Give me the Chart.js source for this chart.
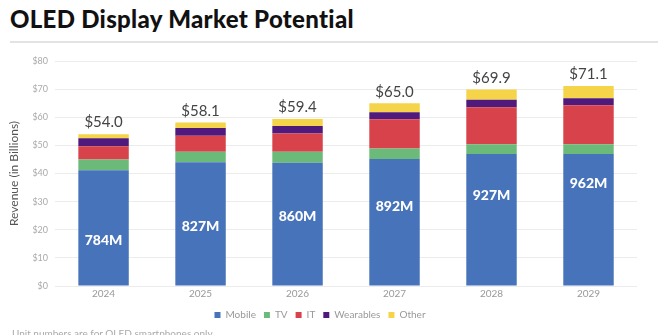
<!DOCTYPE html>
<html>
<head>
<meta charset="utf-8">
<script src="https://cdn.jsdelivr.net/npm/chart.js@4"></script>
<style>
  html, body { margin: 0; padding: 0; background: #fff; overflow: hidden; }
  body { width: 658px; height: 335px; position: relative; font-family: Lato, sans-serif; }
  h1 { position: absolute; left: 10px; top: 4px; margin: 0; font-family: Lato, sans-serif; font-weight: 900; font-size: 24px; color: #111; letter-spacing: 0.3px; }
  .rule { position: absolute; left: 10px; right: 0; top: 41px; height: 2px; background: #e3e3e3; }
  #wrap { position: absolute; left: 0; top: 44px; width: 658px; height: 286px; }
  .note { position: absolute; left: 12px; top: 327px; font-size: 10px; color: #aaa; background: #fff; }
</style>
</head>
<body>
<h1>OLED Display Market Potential</h1>
<div class="rule"></div>
<div id="wrap"><canvas id="chart"></canvas></div>
<div class="note">Unit numbers are for OLED smartphones only</div>
<script>
// values, in $ billions
const years = ['2024', '2025', '2026', '2027', '2028', '2029'];
const mobile = [41.2, 44.0, 43.8, 45.2, 46.9, 46.9];
const tv = [3.8, 3.7, 3.9, 3.7, 3.5, 3.5];
const it = [4.7, 5.7, 6.5, 10.4, 13.2, 13.9];
const wearables = [2.8, 2.8, 2.7, 2.5, 2.6, 2.5];
const other = [1.5, 1.9, 2.5, 3.2, 3.7, 4.3];
const totals = [54.0, 58.1, 59.4, 65.0, 69.9, 71.1];
// smartphone units (millions)
const units = [784, 827, 860, 892, 927, 962];

function barSet(label, data, color) {
    return {
        label: label,
        data: data,
        backgroundColor: color,
        borderWidth: 0,
        stack: 'rev',
        categoryPercentage: 1,
        barPercentage: 0.52,
        order: 2
    };
}

const labelPlugin = {
    id: 'labels',
    afterDatasetsDraw(chart) {
        var ctx = chart.ctx;
        var yScale = chart.scales.y;
        var bars = chart.getDatasetMeta(0).data;
        var pts = chart.getDatasetMeta(5).data;
        ctx.save();
        ctx.textAlign = 'center';
        for (var i = 0; i < totals.length; i++) {
            ctx.fillStyle = '#444';
            ctx.font = '15px Lato';
            ctx.textBaseline = 'bottom';
            ctx.fillText('$' + totals[i].toFixed(1), bars[i].x, yScale.getPixelForValue(totals[i]) - 4);

            ctx.fillStyle = '#fff';
            ctx.font = '900 14px Lato';
            ctx.textBaseline = 'middle';
            ctx.fillText(units[i] + 'M', pts[i].x, pts[i].y);
        }
        ctx.restore();
    }
};

new Chart(document.getElementById('chart'), {
    type: 'bar',
    data: {
        labels: years,
        datasets: [
            barSet('Mobile', mobile, '#4673b9'),
            barSet('TV', tv, '#6cba79'),
            barSet('IT', it, '#d8424a'),
            barSet('Wearables', wearables, '#4f1a7c'),
            barSet('Other', other, '#f5d44a'),
            {
                type: 'line',
                label: 'units',
                data: units,
                yAxisID: 'y2',
                showLine: false,
                pointRadius: 0,
                order: 1
            }
        ]
    },
    options: {
        responsive: true,
        maintainAspectRatio: false,
        animation: false,
        layout: { padding: { left: 3, right: 21, top: 17, bottom: 0 } },
        scales: {
            x: {
                stacked: true,
                grid: { display: false, drawTicks: false },
                border: { display: false },
                ticks: { color: '#999', font: { family: 'Lato', size: 10 }, padding: 2 }
            },
            y: {
                stacked: true,
                min: 0,
                max: 80,
                grid: { color: '#ececec', drawTicks: false },
                border: { display: false },
                ticks: {
                    stepSize: 10,
                    color: '#aaa',
                    font: { family: 'Lato', size: 9 },
                    padding: 7,
                    callback: function(v) { return '$' + v; }
                },
                title: {
                    display: true,
                    text: 'Revenue (in Billions)',
                    color: '#555',
                    font: { family: 'Lato', size: 12 },
                    padding: 4
                }
            },
            y2: {
                display: false,
                min: 640,
                max: 1350
            }
        },
        plugins: {
            legend: {
                position: 'bottom',
                labels: {
                    boxWidth: 6,
                    boxHeight: 6,
                    padding: 8,
                    color: '#999',
                    font: { family: 'Lato', size: 10 },
                    filter: function(item) { return item.text !== 'units'; }
                }
            },
            tooltip: { enabled: false }
        }
    },
    plugins: [labelPlugin]
});
</script>
</body>
</html>
